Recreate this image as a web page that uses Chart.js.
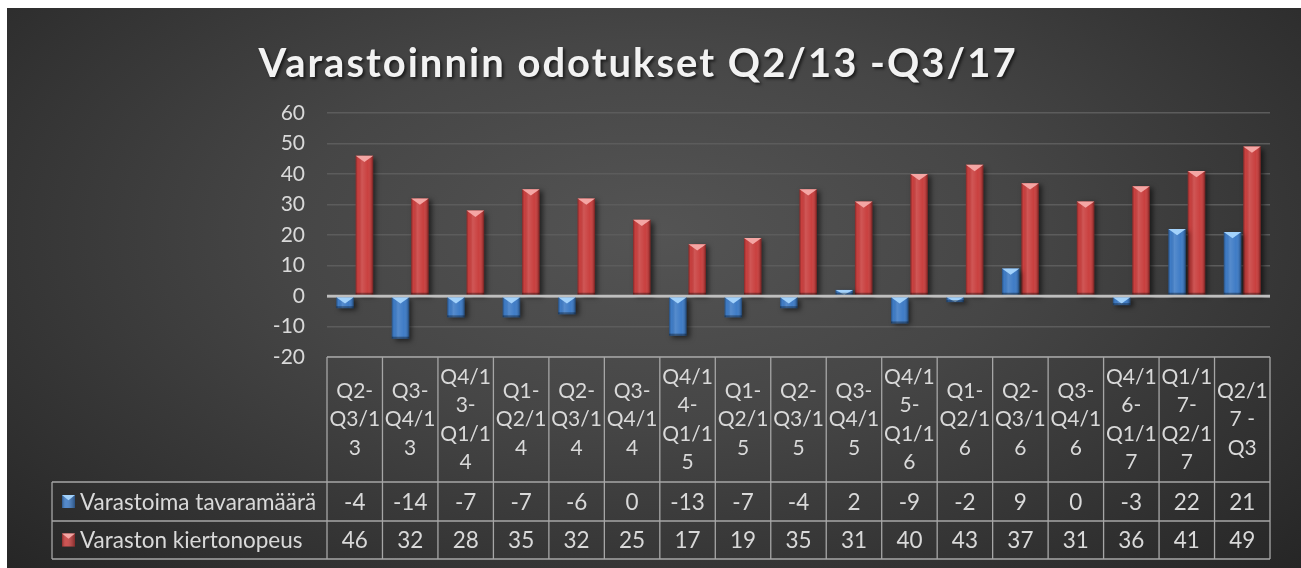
<!DOCTYPE html>
<html>
<head>
<meta charset="utf-8">
<script src="https://cdn.jsdelivr.net/npm/chart.js@4.4.0/dist/chart.umd.min.js"></script>
<style>
  html, body { margin: 0; padding: 0; background: #fff; }
  #wrap {
    position: absolute; left: 7px; top: 8px; width: 1294px; height: 560px; overflow: hidden;
    background: radial-gradient(ellipse 70% 85% at 50% 40%, #545454 0%, #464646 40%, #262626 100%);
  }
  #title {
    position: absolute; left: 0; top: 32px; width: 1262px; text-align: center;
    font: bold 40px Lato, sans-serif; letter-spacing: 2px; line-height: 44px;
    color: #f2f2f2; text-shadow: 2px 2px 3px rgba(0,0,0,0.6);
  }
  canvas { position: absolute; left: 0; top: 0; }
</style>
</head>
<body>
<div id="wrap">
  <canvas id="chart" width="1294" height="560"></canvas>
  <div id="title">Varastoinnin odotukset Q2/13 -Q3/17</div>
</div>
<script>
// data
const categories = [
  'Q2-Q3/13', 'Q3-Q4/13', 'Q4/13-Q1/14', 'Q1-Q2/14', 'Q2-Q3/14', 'Q3-Q4/14',
  'Q4/14-Q1/15', 'Q1-Q2/15', 'Q2-Q3/15', 'Q3-Q4/15', 'Q4/15-Q1/16', 'Q1-Q2/16',
  'Q2-Q3/16', 'Q3-Q4/16', 'Q4/16-Q1/17', 'Q1/17-Q2/17', 'Q2/17 - Q3'
];
const storedVolume = [-4, -14, -7, -7, -6, 0, -13, -7, -4, 2, -9, -2, 9, 0, -3, 22, 21];
const turnoverRate = [46, 32, 28, 35, 32, 25, 17, 19, 35, 31, 40, 43, 37, 31, 36, 41, 49];
const seriesNames = ['Varastoima tavaramäärä', 'Varaston kiertonopeus'];
const yMin = -20, yMax = 60, yStep = 10;

const textColor = '#d9d9d9';
const lineColor = '#a6a6a6';
const blue = '#3f7cc6', blueBevel = '#a3d2fb';
const red = '#c9403f', redBevel = '#f4a6a4';

// header row + two data rows under the plot
const headerH = 125;
const rowH = [39, 38];
const legendLeft = 45;

// break a label like Excel does: after '-' or at spaces, else by character
function wrapLabel(ctx, text, maxW) {
  const tokens = [];
  text.split(' ').forEach((word, wi) => {
    const parts = word.match(/[^-]*-|[^-]+/g) || [word];
    parts.forEach((p, pi) => tokens.push({ text: p, sep: (wi > 0 && pi === 0) ? ' ' : '' }));
  });
  const lines = [];
  let cur = '';
  tokens.forEach(tok => {
    const cand = cur ? cur + tok.sep + tok.text : tok.text;
    if (ctx.measureText(cand).width <= maxW) { cur = cand; return; }
    if (cur) lines.push(cur);
    let t = tok.text;
    while (ctx.measureText(t).width > maxW && t.length > 1) {
      let k = t.length - 1;
      while (k > 1 && ctx.measureText(t.slice(0, k)).width > maxW) k--;
      lines.push(t.slice(0, k));
      t = t.slice(k);
    }
    cur = t;
  });
  if (cur) lines.push(cur);
  return lines;
}

function drawIcon(ctx, x, y, s, color, bevel) {
  ctx.fillStyle = color;
  ctx.fillRect(x, y, s, s);
  const g = ctx.createLinearGradient(x, 0, x + s, 0);
  g.addColorStop(0, 'rgba(0,0,0,0.3)');
  g.addColorStop(0.3, 'rgba(255,255,255,0.1)');
  g.addColorStop(1, 'rgba(0,0,0,0.35)');
  ctx.fillStyle = g;
  ctx.fillRect(x, y, s, s);
  ctx.fillStyle = bevel;
  ctx.beginPath();
  ctx.moveTo(x, y); ctx.lineTo(x + s, y); ctx.lineTo(x + s / 2, y + s * 0.4);
  ctx.closePath(); ctx.fill();
}

// shadow + bevel look of the bars
const barStyle = {
  id: 'barStyle',
  beforeDatasetsDraw(chart) {
    const c = chart.ctx;
    c.save();
    c.shadowColor = 'rgba(0,0,0,0.55)';
    c.shadowBlur = 5;
    c.shadowOffsetX = 3;
    c.shadowOffsetY = 2;
  },
  afterDatasetsDraw(chart) {
    const ctx = chart.ctx;
    ctx.restore();
    chart.data.datasets.forEach((ds, di) => {
      chart.getDatasetMeta(di).data.forEach(bar => {
        const { x, y, base, width } = bar.getProps(['x', 'y', 'base', 'width'], true);
        const top = Math.min(y, base), bottom = Math.max(y, base), h = bottom - top;
        if (h < 0.5) return;
        const left = x - width / 2;
        const g = ctx.createLinearGradient(left, 0, left + width, 0);
        g.addColorStop(0, 'rgba(0,0,0,0.35)');
        g.addColorStop(0.12, 'rgba(0,0,0,0)');
        g.addColorStop(0.35, 'rgba(255,255,255,0.12)');
        g.addColorStop(0.7, 'rgba(255,255,255,0)');
        g.addColorStop(0.9, 'rgba(0,0,0,0.15)');
        g.addColorStop(1, 'rgba(0,0,0,0.45)');
        ctx.fillStyle = g;
        ctx.fillRect(left, top, width, h);
        const th = Math.min(width * 0.36, h);
        ctx.fillStyle = ds.bevel;
        ctx.beginPath();
        ctx.moveTo(left, top); ctx.lineTo(left + width, top); ctx.lineTo(x, top + th);
        ctx.closePath(); ctx.fill();
        ctx.fillStyle = 'rgba(0,0,0,0.35)';
        ctx.fillRect(left, bottom - Math.min(2, h), width, Math.min(2, h));
      });
    });
    // axis line on top of the bars
    const y0 = chart.scales.y.getPixelForValue(0);
    ctx.save();
    ctx.strokeStyle = '#bfbfbf';
    ctx.lineWidth = 2.5;
    ctx.beginPath();
    ctx.moveTo(chart.chartArea.left, y0); ctx.lineTo(chart.chartArea.right, y0);
    ctx.stroke();
    ctx.restore();
  }
};

// data table below the plot
const dataTable = {
  id: 'dataTable',
  afterDraw(chart) {
    const { ctx, chartArea: area, scales: { x } } = chart;
    const n = categories.length;
    const cw = (area.right - area.left) / n;
    const top = area.bottom, hb = top + headerH, r1 = hb + rowH[0], r2 = r1 + rowH[1];
    ctx.save();
    ctx.strokeStyle = lineColor;
    ctx.lineWidth = 1.3;
    ctx.beginPath();
    ctx.moveTo(area.left, top); ctx.lineTo(area.right, top);
    [hb, r1, r2].forEach(yy => { ctx.moveTo(legendLeft, yy); ctx.lineTo(area.right, yy); });
    ctx.moveTo(legendLeft, hb); ctx.lineTo(legendLeft, r2);
    for (let i = 0; i <= n; i++) {
      const bx = i < n ? x.getPixelForValue(i) - cw / 2 : x.getPixelForValue(n - 1) + cw / 2;
      ctx.moveTo(bx, top); ctx.lineTo(bx, r2);
    }
    ctx.stroke();

    ctx.fillStyle = textColor;
    ctx.textAlign = 'center';
    ctx.textBaseline = 'middle';
    const lh = 28.5;
    const hc = (top + hb) / 2;
    categories.forEach((cat, i) => {
      const cx = x.getPixelForValue(i);
      ctx.font = '21px Lato';
      const lines = wrapLabel(ctx, cat, cw - 4);
      lines.forEach((ln, k) => {
        ctx.fillText(ln, cx, hc + (k - (lines.length - 1) / 2) * lh);
      });
      ctx.font = '22.5px Lato';
      ctx.fillText(String(storedVolume[i]), cx, (hb + r1) / 2 + 1);
      ctx.fillText(String(turnoverRate[i]), cx, (r1 + r2) / 2 + 1);
    });

    ctx.textAlign = 'left';
    drawIcon(ctx, 55, (hb + r1) / 2 - 6.5, 13, blue, blueBevel);
    drawIcon(ctx, 55, (r1 + r2) / 2 - 6.5, 13, red, redBevel);
    ctx.fillStyle = textColor;
    ctx.font = '22.5px Lato';
    ctx.fillText(seriesNames[0], 73, (hb + r1) / 2 + 1);
    ctx.fillText(seriesNames[1], 73, (r1 + r2) / 2 + 1);
    ctx.restore();
  }
};

new Chart(document.getElementById('chart').getContext('2d'), {
  type: 'bar',
  data: {
    labels: categories,
    datasets: [
      {
        label: seriesNames[0],
        data: storedVolume,
        backgroundColor: blue,
        bevel: blueBevel,
        categoryPercentage: 0.7,
        barPercentage: 0.9
      },
      {
        label: seriesNames[1],
        data: turnoverRate,
        backgroundColor: red,
        bevel: redBevel,
        categoryPercentage: 0.7,
        barPercentage: 0.9
      }
    ]
  },
  options: {
    responsive: false,
    animation: false,
    layout: { padding: { top: 105, right: 31, bottom: 211, left: 0 } },
    plugins: {
      legend: { display: false },
      tooltip: { enabled: false },
      title: { display: false }
    },
    scales: {
      x: { display: false },
      y: {
        min: yMin,
        max: yMax,
        ticks: { stepSize: yStep, color: textColor, font: { family: 'Lato', size: 21 }, padding: 22 },
        grid: {
          drawTicks: false,
          color: c => c.tick && c.tick.value === 0 ? '#bfbfbf' : '#5c5c5c',
          lineWidth: c => c.tick && c.tick.value === 0 ? 2.5 : 1.4
        },
        border: { display: false },
        afterFit(scale) { scale.width = 320; }
      }
    }
  },
  plugins: [barStyle, dataTable]
});
</script>
</body>
</html>
